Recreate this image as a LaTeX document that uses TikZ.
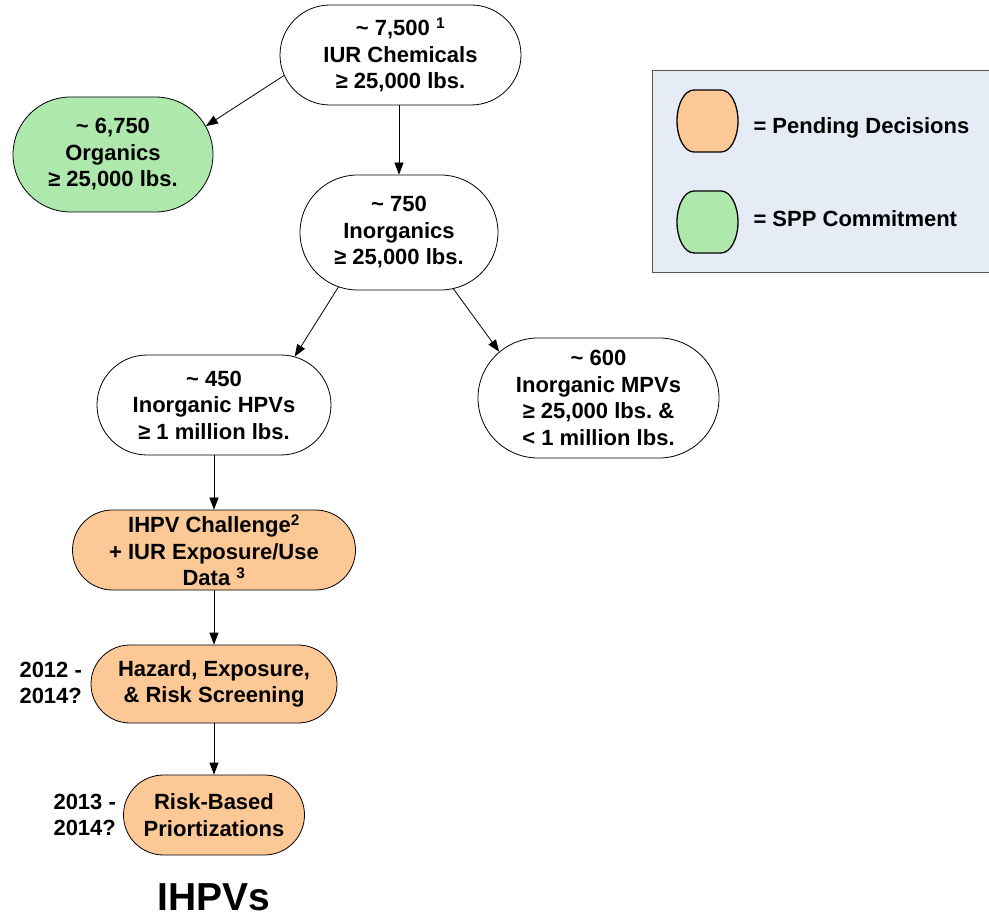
\documentclass[tikz,border=0pt]{standalone}
\usepackage{fontspec}
\setmainfont{Liberation Sans}
\usetikzlibrary{shapes.misc,arrows.meta}
\definecolor{pending}{HTML}{FCC996}
\definecolor{commit}{HTML}{AEE8AC}
\definecolor{legendbg}{HTML}{E6ECF6}
\definecolor{legendline}{HTML}{555555}
\newcommand{\tld}{\textasciitilde{}}
\frenchspacing
\begin{document}
\begin{tikzpicture}[x=1pt,y=-1pt,
  every node/.style={font=\fontsize{22}{26.5}\selectfont\bfseries},
  stadium/.style={rounded rectangle, draw=black, line width=0.8pt,
    inner sep=0pt, align=center, fill=white},
  flow/.style={draw=black, line width=0.8pt,
    -{Triangle[length=12pt,width=9pt]}},
  swatch/.style={draw=black, line width=1.3pt},
  yearlabel/.style={anchor=west, align=left},
]
\useasboundingbox (0,0) rectangle (989,917);

% legend panel
\fill[legendbg] (652,70) rectangle (989,272);
\draw[legendline, line width=0.8pt] (989,70) -- (652,70) -- (652,272) -- (989,272);
\fill[pending, swatch] (694,90) -- (721,90)
  arc[start angle=-90, end angle=90, x radius=17, y radius=31]
  -- (694,152) arc[start angle=90, end angle=270, x radius=17, y radius=31] -- cycle;
\fill[commit, swatch] (694,191) -- (721,191)
  arc[start angle=-90, end angle=90, x radius=17, y radius=31]
  -- (694,253) arc[start angle=90, end angle=270, x radius=17, y radius=31] -- cycle;
\node[anchor=west] (lpend) at (750,128) {= Pending Decisions};
\node[anchor=west] (lspp) at (750,219) {= SPP Commitment};

% flow nodes
\node[stadium, minimum width=241pt, minimum height=100pt] (top) at (400.5,55)
  {\tld\ 7,500 \textsuperscript{1}\\IUR Chemicals\\≥ 25,000 lbs.};
\node[stadium, fill=commit, minimum width=200pt, minimum height=115pt] (org) at (113,154.5)
  {\tld\ 6,750\\Organics\\≥ 25,000 lbs.};
\node[stadium, minimum width=198pt, minimum height=115pt] (inorg) at (399,232.5)
  {\tld\ 750\\Inorganics\\≥ 25,000 lbs.};
\node[stadium, minimum width=234pt, minimum height=100pt] (hpv) at (214,405)
  {\tld\ 450\\Inorganic HPVs\\≥ 1 million lbs.};
\node[stadium, minimum width=241pt, minimum height=120pt] (mpv) at (598.5,398)
  {\tld\ 600\\Inorganic MPVs\\≥ 25,000 lbs. \&\\< 1 million lbs.};
\node[stadium, fill=pending, minimum width=283pt, minimum height=80pt] (chal) at (214,550)
  {IHPV Challenge\textsuperscript{2}\\+ IUR Exposure/Use\\Data \textsuperscript{3}};
\node[stadium, fill=pending, minimum width=246pt, minimum height=78pt] (haz) at (214,684)
  {Hazard, Exposure,\\\& Risk Screening};
\node[stadium, fill=pending, minimum width=181pt, minimum height=80pt] (risk) at (214,815)
  {Risk-Based\\Priortizations};

% schedule labels and title
\node[yearlabel] (y1) at (16,683) {2012 -\\2014?};
\node[yearlabel] (y2) at (50,815) {2013 -\\2014?};
\node[font=\fontsize{39}{44}\selectfont\bfseries] (title) at (214,897) {IHPVs};

% connectors
\draw[flow] (top.190) -- (org.17);
\draw[flow] (top.south -| inorg.north) -- (inorg.north);
\draw[flow] (inorg.222) -- (hpv.31);
\draw[flow] (inorg.314) -- (mpv.155);
\draw[flow] (hpv.south) -- (chal.north);
\draw[flow] (chal.south) -- (haz.north);
\draw[flow] (haz.south) -- (risk.north);
\end{tikzpicture}
\end{document}
